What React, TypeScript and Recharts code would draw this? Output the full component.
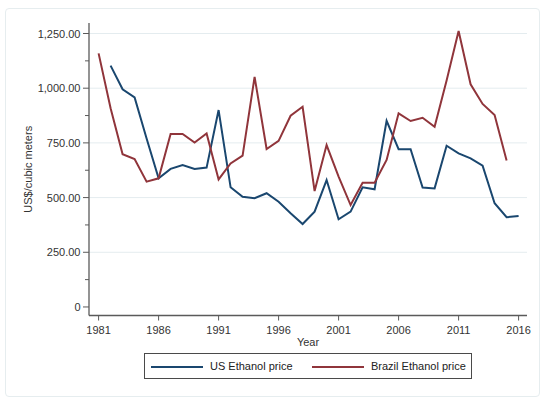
import React from "react";
import { LineChart, Line, XAxis, YAxis, CartesianGrid } from "recharts";

const years = [
  1981, 1982, 1983, 1984, 1985, 1986, 1987, 1988, 1989, 1990, 1991, 1992,
  1993, 1994, 1995, 1996, 1997, 1998, 1999, 2000, 2001, 2002, 2003, 2004,
  2005, 2006, 2007, 2008, 2009, 2010, 2011, 2012, 2013, 2014, 2015, 2016,
];
const usPrice = [
  null, 1103, 995, 958, 770, 588, 631, 649, 631, 637, 900, 547,
  504, 497, 520, 481, 428, 379, 436, 580, 401, 436, 547, 538,
  851, 721, 721, 546, 542, 737, 702, 679, 646, 474, 410, 416,
];
const brazilPrice = [
  1159, 908, 698, 676, 573, 588, 791, 791, 752, 793, 583, 656,
  692, 1052, 722, 759, 874, 915, 530, 740, 596, 466, 568, 568,
  672, 885, 850, 865, 824, 1035, 1261, 1018, 928, 877, 669, null,
];
const xTicks = [1981, 1986, 1991, 1996, 2001, 2006, 2011, 2016];
const yTicks = [0, 125, 250, 375, 500, 625, 750, 875, 1000, 1125, 1250];
const gridValues = [250, 500, 750, 1000, 1250];

const data = years.map((year, i) => ({
  year,
  us: usPrice[i],
  brazil: brazilPrice[i],
}));

const FONT = "'Liberation Sans', Arial, sans-serif";
const AXIS = "#5a5a5a";
const TEXT = "#333";
const BLUE = "#1a476f";
const RED = "#90353b";
const AXIS_X = 89;

const fmt = (v: number) =>
  v === 0 ? "0" : v.toLocaleString("en-US", { minimumFractionDigits: 2, maximumFractionDigits: 2 });

// major ticks get a label, minor ticks only a short mark
const YTick = ({ y, payload }: any) => {
  const v = payload.value;
  const major = v % 250 === 0;
  return (
    <g>
      <line x1={AXIS_X - (major ? 6 : 4)} x2={AXIS_X} y1={y} y2={y} stroke={AXIS} strokeWidth={1} />
      {major && (
        <text x={AXIS_X - 8.5} y={y} dy={4} textAnchor="end" fontSize={11} fontFamily={FONT} fill={TEXT}>
          {fmt(v)}
        </text>
      )}
    </g>
  );
};

const YLabel = ({ viewBox }: any) => {
  const cy = viewBox.y + viewBox.height / 2;
  return (
    <text x={31.5} y={cy} transform={`rotate(-90, 31.5, ${cy})`} textAnchor="middle" fontSize={11} fontFamily={FONT} fill={TEXT}>
      US$/cubic meters
    </text>
  );
};

const XLabel = ({ viewBox }: any) => (
  <text x={viewBox.x + viewBox.width / 2} y={345.5} textAnchor="middle" fontSize={11} fontFamily={FONT} fill={TEXT}>
    Year
  </text>
);

const legendItems = [
  { name: "US Ethanol price", color: BLUE, lineX: 6, textX: 65 },
  { name: "Brazil Ethanol price", color: RED, lineX: 167, textX: 226 },
];

export default function App() {
  return (
    <div style={{ position: "absolute", left: 0, top: 0, width: 550, height: 405, background: "#fff" }}>
      <div
        style={{
          position: "absolute",
          left: 5,
          top: 8,
          width: 535,
          height: 389,
          border: "1px solid #e6edef",
          borderRadius: 4,
          boxSizing: "border-box",
        }}
      />
      <LineChart
        width={550}
        height={405}
        data={data}
        margin={{ top: 23, right: 23, left: 0, bottom: 49.5 }}
        style={{ position: "absolute", left: 0, top: 0 }}
      >
        <CartesianGrid horizontal vertical={false} horizontalValues={gridValues} stroke="#e4ecef" strokeWidth={1} />
        <XAxis
          type="number"
          dataKey="year"
          domain={[1980.2, 2016.7]}
          ticks={xTicks}
          allowDataOverflow
          height={40}
          tickSize={5}
          tickMargin={6}
          axisLine={{ stroke: AXIS, strokeWidth: 1.3 }}
          tickLine={{ stroke: AXIS }}
          tick={{ fontSize: 11, fontFamily: FONT, fill: TEXT }}
          label={{ content: XLabel }}
        />
        <YAxis
          type="number"
          domain={[-39, 1298]}
          ticks={yTicks}
          allowDataOverflow
          width={AXIS_X}
          axisLine={{ stroke: AXIS, strokeWidth: 1.3 }}
          tickLine={false}
          tick={<YTick />}
          interval={0}
          label={{ content: YLabel }}
        />
        <Line
          type="linear"
          dataKey="us"
          name="US Ethanol price"
          stroke={BLUE}
          strokeWidth={2}
          dot={false}
          isAnimationActive={false}
        />
        <Line
          type="linear"
          dataKey="brazil"
          name="Brazil Ethanol price"
          stroke={RED}
          strokeWidth={2}
          dot={false}
          isAnimationActive={false}
        />
      </LineChart>
      <div
        style={{
          position: "absolute",
          left: 144,
          top: 353,
          width: 328,
          height: 26,
          border: "1px solid #4a4a4a",
          boxSizing: "border-box",
          fontFamily: FONT,
          fontSize: 11,
          color: "#222",
        }}
      >
        {legendItems.map((item) => (
          <React.Fragment key={item.name}>
            <div
              style={{
                position: "absolute",
                left: item.lineX,
                top: 11.5,
                width: 52,
                height: 2,
                background: item.color,
              }}
            />
            <span style={{ position: "absolute", left: item.textX, top: 5.5, lineHeight: "13px", whiteSpace: "nowrap" }}>
              {item.name}
            </span>
          </React.Fragment>
        ))}
      </div>
    </div>
  );
}
